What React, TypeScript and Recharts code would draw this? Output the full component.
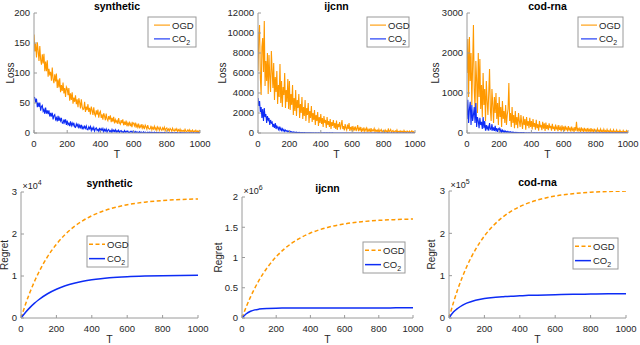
import React from 'react';
import { LineChart, Line, XAxis, YAxis } from 'recharts';

const ORANGE = '#ff9900';
const BLUE = '#0d2cf5';
const FRAME = '#9a9a9a';
const INK = '#262626';

// loss curves, sampled every 5 steps
const lossT = [
  0, 5, 10, 15, 20, 25, 30, 35, 40, 45, 50, 55, 60, 65, 70, 75, 80, 85, 90, 95,
  100, 105, 110, 115, 120, 125, 130, 135, 140, 145, 150, 155, 160, 165, 170, 175, 180, 185, 190, 195,
  200, 205, 210, 215, 220, 225, 230, 235, 240, 245, 250, 255, 260, 265, 270, 275, 280, 285, 290, 295,
  300, 305, 310, 315, 320, 325, 330, 335, 340, 345, 350, 355, 360, 365, 370, 375, 380, 385, 390, 395,
  400, 405, 410, 415, 420, 425, 430, 435, 440, 445, 450, 455, 460, 465, 470, 475, 480, 485, 490, 495,
  500, 505, 510, 515, 520, 525, 530, 535, 540, 545, 550, 555, 560, 565, 570, 575, 580, 585, 590, 595,
  600, 605, 610, 615, 620, 625, 630, 635, 640, 645, 650, 655, 660, 665, 670, 675, 680, 685, 690, 695,
  700, 705, 710, 715, 720, 725, 730, 735, 740, 745, 750, 755, 760, 765, 770, 775, 780, 785, 790, 795,
  800, 805, 810, 815, 820, 825, 830, 835, 840, 845, 850, 855, 860, 865, 870, 875, 880, 885, 890, 895,
  900, 905, 910, 915, 920, 925, 930, 935, 940, 945, 950, 955, 960, 965, 970, 975, 980, 985, 990, 995,
  1000,
];

const synOgd = [
  164, 136, 149, 126, 151, 137, 120, 145, 122, 114, 131, 116, 132, 103, 119, 103, 121, 94, 107, 96,
  102, 87, 109, 90, 83, 98, 86, 99, 75, 89, 76, 91, 68, 80, 70, 84, 66, 75, 60, 77,
  74, 63, 75, 54, 66, 55, 68, 49, 59, 52, 63, 48, 56, 43, 58, 51, 41, 56, 44, 39,
  40, 52, 35, 44, 38, 48, 35, 42, 31, 44, 38, 30, 43, 32, 28.5, 37.6, 30.7, 38.9, 25.4, 33.6,
  36.2, 25.1, 31.1, 22.1, 32.9, 28, 21.2, 32.4, 23.4, 20.5, 28.3, 22.5, 29.6, 18.2, 25.2, 19, 27, 16, 22.2, 18,
  20.8, 15.1, 24.7, 17, 14.6, 21.5, 16.5, 22.6, 12.9, 18.9, 13.7, 20.6, 11.2, 16.5, 13, 19.1, 11.5, 15.8, 9.7, 17.3,
  16.2, 12, 17.2, 9, 14.2, 9.8, 15.7, 7.8, 12.4, 9.3, 14.6, 8.2, 11.8, 6.6, 13.2, 10.4, 6.5, 13.3, 8, 6.4,
  6.9, 12.1, 5.2, 9.3, 6.7, 11.3, 5.7, 8.9, 4.4, 10.3, 7.8, 4.3, 10.5, 5.7, 4.3, 8.6, 5.6, 9.6, 3.5, 7.4,
  8.5, 4.1, 6.6, 3.1, 7.7, 5.8, 3.1, 7.9, 4.2, 3.1, 6.5, 4.2, 7.2, 2.6, 5.5, 3.1, 6.5, 2, 4.6, 3,
  4.3, 2, 6.1, 2.9, 2, 4.9, 3, 5.5, 1.6, 4.1, 2.1, 4.9, 1.2, 3.5, 2.1, 4.6, 1.6, 3.4, 1, 4.2,
  2.7,
];
const synCo2 = [
  60, 58.2, 50.5, 57.2, 42.9, 50.8, 43.5, 50.7, 37.1, 44.1, 46, 36.1, 39.3, 32, 42.5, 32.4, 37.9, 31.6, 37.6, 27.5,
  33.4, 27.5, 33.8, 22.6, 28.8, 30.6, 22.4, 25.4, 19.5, 28.6, 20.2, 25.1, 20, 25.2, 16.8, 15.9, 22.5, 17.6, 22.7, 13.4,
  20.6, 13.9, 16.4, 11.5, 19.4, 12.4, 16.7, 12.5, 17.1, 10.1, 9.4, 15.1, 11.1, 15.5, 7.7, 12.8, 9.1, 13.7, 6.3, 10.8,
  7.6, 11.3, 7.8, 11.8, 5.9, 5.4, 10.3, 7, 10.7, 4.2, 8.7, 5.5, 9.5, 3.2, 7.1, 8.6, 4, 6, 2.8, 8.4,
  2.9, 7.1, 4.3, 7.6, 2.1, 5.9, 3.3, 6.7, 1.4, 4.8, 6, 2.2, 3.9, 1.2, 5.9, 2.1, 4.7, 2.4, 5.3, 1.3,
  4.1, 1.9, 4.6, 0.5, 3.2, 4.1, 1.2, 2.5, 0.6, 4, 1.3, 3.1, 1.5, 3.3, 0.8, 0.6, 2.8, 1.4, 3.1, 0.4,
  2.4, 0.6, 2.6, 0.4, 2.2, 1.1, 0.5, 2.1, 0.3, 1.9, 1.0, 0.4, 1.8, 0.3, 1.6, 0.9, 0.3, 1.5, 0.4, 1.3,
  0.3, 1.5, 0.5, 1.2, 0.2, 1.3, 0.8, 0.3, 1.1, 0.2, 1.0, 0.5, 0.2, 1.0, 0.3, 0.8, 0.2, 0.9, 0.5, 0.2,
  0.8, 0.2, 0.9, 0.4, 0.1, 0.8, 0.2, 0.7, 0.3, 0.1, 0.7, 0.2, 0.6, 0.3, 0.1, 0.5, 0.2, 0.6, 0.1, 0.4,
  0.5, 0.1, 0.4, 0.2, 0.05, 0.4, 0.1, 0.35, 0.15, 0.05, 0.3, 0.1, 0.3, 0.1, 0.05, 0.25, 0.1, 0.3, 0.05, 0.2,
  0.15,
];

const ijOgd = [
  6200, 9800, 10800, 5500, 3800, 8600, 9500, 6100, 11200, 4700, 7200, 5200, 8000, 3900, 7800, 5600, 4100, 8200, 6300, 4500,
  7000, 3300, 5600, 4100, 6200, 2900, 4800, 3600, 6900, 3000, 5200, 2600, 4600, 3800, 6000, 2500, 4300, 3100, 5400, 2400,
  5200, 2300, 3900, 2800, 4800, 1800, 3500, 2200, 4300, 1700, 3300, 2500, 3900, 1500, 2900, 2000, 3600, 1400, 2600, 1700,
  3300, 1200, 2500, 1800, 3000, 1000, 2200, 1500, 2700, 1100, 2000, 1300, 2300, 800, 1800, 1200, 2100, 700, 1600, 1000,
  1900, 900, 1500, 600, 1700, 1000, 1300, 500, 1600, 800, 1200, 600, 1400, 400, 1100, 700, 1300, 500, 1000, 400,
  1250, 300, 900, 600, 1100, 350, 800, 1300, 400, 700, 250, 900, 500, 300, 850, 400, 1000, 200, 600, 350,
  700, 150, 550, 350, 650, 200, 450, 800, 180, 500, 300, 600, 120, 400, 250, 550, 150, 350, 500, 100,
  400, 200, 350, 80, 500, 150, 300, 220, 450, 100, 320, 180, 280, 70, 380, 120, 250, 350, 80, 200,
  260, 60, 300, 150, 220, 50, 450, 120, 200, 350, 60, 190, 250, 40, 170, 220, 90, 300, 50, 160,
  180, 50, 220, 100, 160, 30, 250, 90, 150, 40, 200, 120, 60, 180, 30, 140, 220, 50, 130, 20,
  120,
];
const ijCo2 = [
  3500, 2700, 3200, 2100, 2600, 1500, 2400, 1200, 2500, 1600, 1900, 1000, 1700, 1300, 1500, 800, 1300, 1000, 1100, 600,
  900, 500, 1000, 400, 700, 550, 350, 650, 300, 500, 250, 420, 200, 350, 150, 300, 180, 250, 120, 200,
  90, 160, 70, 130, 60, 110, 50, 90, 40, 80, 35, 65, 30, 55, 25, 45, 20, 40, 18, 35,
  15, 30, 12, 25, 10, 22, 9, 20, 8, 18, 7, 16, 6, 15, 6, 14, 5, 13, 5, 12,
  4, 11, 4, 10, 3, 10, 3, 9, 3, 9, 3, 8, 2, 8, 2, 8, 2, 7, 2, 7,
  2, 6, 2, 6, 1, 6, 1, 5, 1, 5, 2, 6, 1, 5, 1, 5, 1, 4, 1, 4,
  2, 6, 2, 6, 1, 6, 1, 5, 1, 5, 2, 6, 1, 5, 1, 5, 1, 4, 1, 4,
  2, 6, 2, 6, 1, 6, 1, 5, 1, 5, 2, 6, 1, 5, 1, 5, 1, 4, 1, 4,
  2, 6, 2, 6, 1, 6, 1, 5, 1, 5, 2, 6, 1, 5, 1, 5, 1, 4, 1, 4,
  2, 6, 2, 6, 1, 6, 1, 5, 1, 5, 2, 6, 1, 5, 1, 5, 1, 4, 1, 4,
  3,
];

const codOgd = [
  1500, 2350, 900, 2400, 1300, 2000, 700, 1700, 2700, 1100, 600, 1800, 1300, 500, 2000, 900, 1850, 600, 1200, 400,
  1500, 700, 1100, 300, 1300, 800, 450, 1000, 1600, 600, 300, 1100, 700, 250, 900, 500, 1000, 350, 750, 200,
  900, 400, 650, 150, 800, 350, 550, 250, 700, 200, 450, 600, 1250, 300, 500, 150, 650, 250, 450, 120,
  550, 200, 400, 120, 500, 300, 150, 450, 250, 100, 420, 200, 350, 80, 400, 180, 300, 120, 380, 150,
  300, 90, 350, 150, 250, 80, 330, 120, 220, 60, 300, 140, 200, 70, 280, 110, 240, 50, 260, 100,
  200, 70, 240, 120, 180, 60, 230, 100, 160, 50, 210, 90, 150, 45, 200, 80, 140, 40, 190, 70,
  160, 45, 180, 90, 130, 40, 170, 80, 120, 35, 160, 70, 110, 30, 150, 60, 280, 40, 130, 55,
  110, 30, 140, 60, 100, 25, 130, 55, 90, 28, 125, 50, 85, 22, 120, 45, 80, 20, 110, 40,
  75, 20, 105, 40, 70, 18, 100, 35, 65, 16, 95, 30, 60, 15, 90, 28, 55, 14, 85, 25,
  50, 14, 80, 25, 45, 12, 75, 22, 40, 12, 70, 20, 38, 10, 65, 18, 35, 10, 60, 15,
  50,
];
const codCo2 = [
  350, 830, 250, 600, 780, 200, 700, 300, 450, 650, 250, 750, 150, 400, 300, 120, 380, 200, 280, 100,
  400, 120, 300, 60, 200, 100, 160, 60, 250, 100, 80, 220, 60, 140, 50, 180, 40, 120, 30, 100,
  120, 30, 90, 20, 70, 25, 60, 15, 50, 20, 40, 12, 35, 15, 30, 10, 25, 8, 20, 6,
  18, 5, 15, 4, 12, 4, 10, 3, 9, 3, 8, 3, 7, 2, 6, 2, 6, 2, 5, 2,
  5, 1, 4, 1, 4, 1, 3, 1, 3, 1, 4, 1, 3, 1, 3, 1, 2, 1, 2, 1,
  5, 1, 4, 1, 4, 1, 3, 1, 3, 1, 4, 1, 3, 1, 3, 1, 2, 1, 2, 1,
  5, 1, 4, 1, 4, 1, 3, 1, 3, 1, 4, 1, 3, 1, 3, 1, 2, 1, 2, 1,
  5, 1, 4, 1, 4, 1, 3, 1, 3, 1, 4, 1, 3, 1, 3, 1, 2, 1, 2, 1,
  5, 1, 4, 1, 4, 1, 3, 1, 3, 1, 4, 1, 3, 1, 3, 1, 2, 1, 2, 1,
  5, 1, 4, 1, 4, 1, 3, 1, 3, 1, 4, 1, 3, 1, 3, 1, 2, 1, 2, 1,
  1,
];

// cumulative regret
const regretT = [0, 25, 50, 75, 100, 150, 200, 250, 300, 350, 400, 450, 500, 600, 700, 800, 900, 1000];
const synRegOgd = [0, 3210, 6060, 8590, 10830, 14600, 17560, 19910, 21740, 23200, 24340, 25240, 25950, 26960, 27580, 27970, 28210, 28350];
const synRegCo2 = [0, 1320, 2470, 3480, 4350, 5770, 6840, 7660, 8270, 8740, 9090, 9360, 9570, 9840, 9990, 10080, 10130, 10160];
const ijRegOgd = [0, 185000, 350000, 495000, 625000, 842000, 1013000, 1148000, 1254000, 1338000, 1404000, 1456000, 1497000, 1555000, 1591000, 1614000, 1627000, 1636000];
const ijRegCo2 = [0, 70000, 111000, 134000, 147000, 159000, 163000, 164000, 165000, 165000, 165500, 166000, 166000, 166500, 167000, 167000, 167500, 168000];
const codRegOgd = [0, 36300, 68300, 96400, 121200, 162100, 193700, 218200, 237200, 251800, 263200, 271900, 278700, 288100, 293700, 297000, 299000, 299800];
const codRegCo2 = [0, 14000, 23000, 30000, 35000, 42000, 46000, 48500, 50000, 51500, 52500, 53500, 54000, 55000, 56000, 56500, 57000, 57500];

const tTicks = [0, 200, 400, 600, 800, 1000];

const toRows = (t: number[], a: number[], b: number[]) =>
  t.map((v, i) => ({ T: v, ogd: a[i], co2: b[i] }));

type Box = { x: number; y: number; w: number; h: number };

interface PanelProps {
  box: Box;
  data: { T: number; ogd: number; co2: number }[];
  yMax: number;
  yTicks: number[];
  yFmt?: (v: number) => string;
  title: string;
  ylabel: string;
  ylabelOff: number;
  exp?: string;
  legend: Box & { pad: number };
  regret?: boolean;
}

const L = 46;
const TOP = 22;
const R = 20;
const B = 32;

const Panel = (p: PanelProps) => {
  const { box } = p;
  const left = box.x - L;
  const top = box.y - TOP;
  const W = box.w + L + R;
  const H = box.h + TOP + B;
  const lx = p.legend.x - left;
  const ly = p.legend.y - top;
  const row1 = ly + p.legend.h * 0.27;
  const row2 = ly + p.legend.h * 0.73;
  const lineX1 = lx + p.legend.pad;
  const lineX2 = lineX1 + 16;
  const sw = p.regret ? 1.5 : 1.1;
  // top-row titles sit right at the page edge; nudge them down a hair
  const titleY = TOP - 5 + (box.y < 20 ? 1.5 : 0);

  return (
    <div style={{ position: 'absolute', left, top }}>
      <LineChart width={W} height={H} data={p.data} margin={{ top: TOP, right: R, bottom: 0, left: 0 }}>
        <XAxis
          dataKey="T"
          type="number"
          domain={[0, 1000]}
          ticks={tTicks}
          interval={0}
          height={B}
          tickSize={-3}
          tickMargin={10}
          stroke={FRAME}
          tick={{ fill: INK, fontSize: 9.5 }}
          allowDataOverflow
        />
        <XAxis
          xAxisId="top"
          orientation="top"
          type="number"
          domain={[0, 1000]}
          ticks={tTicks}
          interval={0}
          height={0}
          tickSize={-3}
          tick={false}
          stroke={FRAME}
        />
        <YAxis
          type="number"
          domain={[0, p.yMax]}
          ticks={p.yTicks}
          interval={0}
          width={L}
          tickSize={-3}
          tickMargin={7}
          stroke={FRAME}
          tick={{ fill: INK, fontSize: 9.5 }}
          tickFormatter={p.yFmt}
          allowDataOverflow
        />
        <YAxis
          yAxisId="right"
          orientation="right"
          type="number"
          domain={[0, p.yMax]}
          ticks={p.yTicks}
          interval={0}
          width={0}
          tickSize={-3}
          tick={false}
          stroke={FRAME}
        />
        <Line
          dataKey="ogd"
          type={p.regret ? 'monotone' : 'linear'}
          stroke={ORANGE}
          strokeWidth={sw}
          strokeDasharray={p.regret ? '4 2.5' : undefined}
          dot={false}
          isAnimationActive={false}
        />
        <Line
          dataKey="co2"
          type={p.regret ? 'monotone' : 'linear'}
          stroke={BLUE}
          strokeWidth={sw}
          dot={false}
          isAnimationActive={false}
        />

        <text x={L + box.w / 2} y={titleY} textAnchor="middle" fontSize={10.5} fontWeight="bold" fill="#000">
          {p.title}
        </text>
        {p.exp && (
          <text x={L + 1.5} y={TOP - 3.5} fontSize={9} fill={INK}>
            ×10<tspan fontSize={7} dy={-4}>{p.exp}</tspan>
          </text>
        )}
        <text
          x={L - p.ylabelOff}
          y={TOP + box.h / 2}
          transform={`rotate(-90, ${L - p.ylabelOff}, ${TOP + box.h / 2})`}
          textAnchor="middle"
          fontSize={10}
          fill={INK}
        >
          {p.ylabel}
        </text>
        <text x={L + box.w / 2} y={TOP + box.h + 25} textAnchor="middle" fontSize={10.5} fill={INK}>
          T
        </text>

        <rect x={lx} y={ly} width={p.legend.w} height={p.legend.h} fill="#fff" stroke={FRAME} strokeWidth={1} />
        <line
          x1={lineX1}
          x2={lineX2}
          y1={row1}
          y2={row1}
          stroke={ORANGE}
          strokeWidth={sw}
          strokeDasharray={p.regret ? '4 2.5' : undefined}
        />
        <text x={lineX2 + 2} y={row1 + 3.5} fontSize={9.5} fill={INK}>OGD</text>
        <line x1={lineX1} x2={lineX2} y1={row2} y2={row2} stroke={BLUE} strokeWidth={sw} />
        <text x={lineX2 + 2} y={row2 + 3.5} fontSize={9.5} fill={INK}>
          CO<tspan fontSize={7} dy={3}>2</tspan>
        </text>
      </LineChart>
    </div>
  );
};

const fmt = (div: number) => (v: number) => `${v / div}`;

export default function App() {
  return (
    <div
      style={{
        position: 'absolute',
        left: 0,
        top: 0,
        width: 640,
        height: 345,
        background: '#fff',
        overflow: 'hidden',
        fontFamily: '"Liberation Sans", Arial, sans-serif',
      }}
    >
      <Panel
        box={{ x: 34, y: 13, w: 166, h: 120 }}
        data={toRows(lossT, synOgd, synCo2)}
        yMax={200}
        yTicks={[0, 50, 100, 150, 200]}
        title="synthetic"
        ylabel="Loss"
        ylabelOff={20}
        legend={{ x: 148, y: 17, w: 48, h: 30, pad: 6 }}
      />
      <Panel
        box={{ x: 258, y: 13, w: 157, h: 120 }}
        data={toRows(lossT, ijOgd, ijCo2)}
        yMax={12000}
        yTicks={[0, 2000, 4000, 6000, 8000, 10000, 12000]}
        title="ijcnn"
        ylabel="Loss"
        ylabelOff={32}
        legend={{ x: 367, y: 17, w: 42, h: 30, pad: 3 }}
      />
      <Panel
        box={{ x: 467, y: 13, w: 161, h: 120 }}
        data={toRows(lossT, codOgd, codCo2)}
        yMax={3000}
        yTicks={[0, 1000, 2000, 3000]}
        title="cod-rna"
        ylabel="Loss"
        ylabelOff={28}
        legend={{ x: 578, y: 17, w: 45, h: 30, pad: 3 }}
      />
      <Panel
        box={{ x: 21, y: 192, w: 177, h: 126 }}
        data={toRows(regretT, synRegOgd, synRegCo2)}
        yMax={30000}
        yTicks={[0, 10000, 20000, 30000]}
        yFmt={fmt(1e4)}
        title="synthetic"
        ylabel="Regret"
        ylabelOff={13}
        exp="4"
        legend={{ x: 87, y: 236, w: 41, h: 31, pad: 2 }}
        regret
      />
      <Panel
        box={{ x: 242, y: 197, w: 171, h: 121 }}
        data={toRows(regretT, ijRegOgd, ijRegCo2)}
        yMax={2000000}
        yTicks={[0, 500000, 1000000, 1500000, 2000000]}
        yFmt={fmt(1e6)}
        title="ijcnn"
        ylabel="Regret"
        ylabelOff={20}
        exp="6"
        legend={{ x: 363, y: 242, w: 42, h: 31, pad: 2 }}
        regret
      />
      <Panel
        box={{ x: 449, y: 191, w: 177, h: 127 }}
        data={toRows(regretT, codRegOgd, codRegCo2)}
        yMax={300000}
        yTicks={[0, 100000, 200000, 300000]}
        yFmt={fmt(1e5)}
        title="cod-rna"
        ylabel="Regret"
        ylabelOff={14}
        exp="5"
        legend={{ x: 573, y: 238, w: 45, h: 31, pad: 2 }}
        regret
      />
    </div>
  );
}
